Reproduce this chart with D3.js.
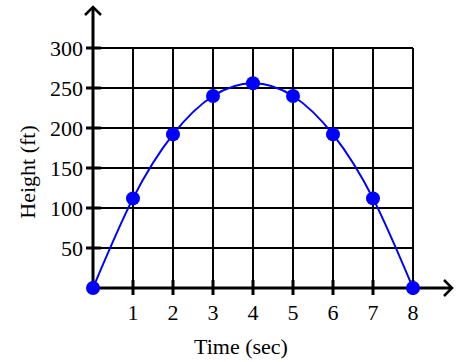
<!DOCTYPE html>
<html>
<head>
<meta charset="utf-8">
<script src="https://cdn.jsdelivr.net/npm/d3@7"></script>
<style>
  body { margin: 0; background: #fff; }
</style>
</head>
<body>
<div id="chart"></div>
<script>
// data
const times = [0, 1, 2, 3, 4, 5, 6, 7, 8];
const heights = [0, 112, 192, 240, 256, 240, 192, 112, 0];
const xTicks = [1, 2, 3, 4, 5, 6, 7, 8];
const yTicks = [50, 100, 150, 200, 250, 300];
const xTitle = "Time (sec)";
const yTitle = "Height (ft)";

const width = 457, height = 362;
const font = "'Liberation Serif', Tinos, 'Times New Roman', Times, 'DejaVu Serif', serif";
const svg = d3.select("#chart").append("svg")
  .attr("width", width).attr("height", height)
  .style("font-family", font);

const x = d3.scaleLinear().domain([0, 8]).range([93, 413]);
const y = d3.scaleLinear().domain([0, 300]).range([288, 48]);

// grid
svg.append("g").selectAll("line").data(yTicks).enter().append("line")
  .attr("x1", x(0)).attr("x2", x(8))
  .attr("y1", d => y(d)).attr("y2", d => y(d))
  .attr("stroke", "#000").attr("stroke-width", 2);
svg.append("g").selectAll("line").data(xTicks).enter().append("line")
  .attr("x1", d => x(d)).attr("x2", d => x(d))
  .attr("y1", y(0)).attr("y2", y(300))
  .attr("stroke", "#000").attr("stroke-width", 2);

// axes with arrows
svg.append("line")
  .attr("x1", x(0)).attr("x2", 452)
  .attr("y1", y(0)).attr("y2", y(0))
  .attr("stroke", "#000").attr("stroke-width", 3);
svg.append("line")
  .attr("x1", x(0)).attr("x2", x(0))
  .attr("y1", y(0)).attr("y2", 7)
  .attr("stroke", "#000").attr("stroke-width", 3);
svg.append("path")
  .attr("d", `M${444},${y(0) - 8}L452,${y(0)}L${444},${y(0) + 8}`)
  .attr("fill", "none").attr("stroke", "#000").attr("stroke-width", 2.5);
svg.append("path")
  .attr("d", `M${x(0) - 8},15L${x(0)},7L${x(0) + 8},15`)
  .attr("fill", "none").attr("stroke", "#000").attr("stroke-width", 2.5);

// tick marks
svg.append("g").selectAll("line").data(xTicks).enter().append("line")
  .attr("x1", d => x(d)).attr("x2", d => x(d))
  .attr("y1", y(0) - 8).attr("y2", y(0) + 7)
  .attr("stroke", "#000").attr("stroke-width", 3);
svg.append("g").selectAll("line").data(yTicks).enter().append("line")
  .attr("x1", x(0) - 7).attr("x2", x(0) + 8)
  .attr("y1", d => y(d)).attr("y2", d => y(d))
  .attr("stroke", "#000").attr("stroke-width", 3);

// tick labels
svg.append("g").selectAll("text").data(xTicks).enter().append("text")
  .attr("x", d => x(d)).attr("y", 320)
  .attr("text-anchor", "middle")
  .style("font-family", font).style("font-size", "22px")
  .text(d => d);
svg.append("g").selectAll("text").data(yTicks).enter().append("text")
  .attr("x", 83).attr("y", d => y(d) + 8)
  .attr("text-anchor", "end")
  .style("font-family", font).style("font-size", "22px")
  .text(d => d);

// titles
svg.append("text")
  .attr("x", 241).attr("y", 354)
  .attr("text-anchor", "middle")
  .style("font-family", font).style("font-size", "22px")
  .text(xTitle);
svg.append("text")
  .attr("transform", "translate(35,172) rotate(-90)")
  .attr("text-anchor", "middle")
  .style("font-family", font).style("font-size", "22px")
  .text(yTitle);

// curve and points
const pts = times.map((t, i) => [t, heights[i]]);
const line = d3.line().x(d => x(d[0])).y(d => y(d[1])).curve(d3.curveNatural);
svg.append("path").datum(pts)
  .attr("d", line)
  .attr("fill", "none").attr("stroke", "#0000ff").attr("stroke-width", 2);
svg.append("g").selectAll("circle").data(pts).enter().append("circle")
  .attr("cx", d => x(d[0])).attr("cy", d => y(d[1]))
  .attr("r", 7).attr("fill", "#0000ff");
</script>
</body>
</html>
